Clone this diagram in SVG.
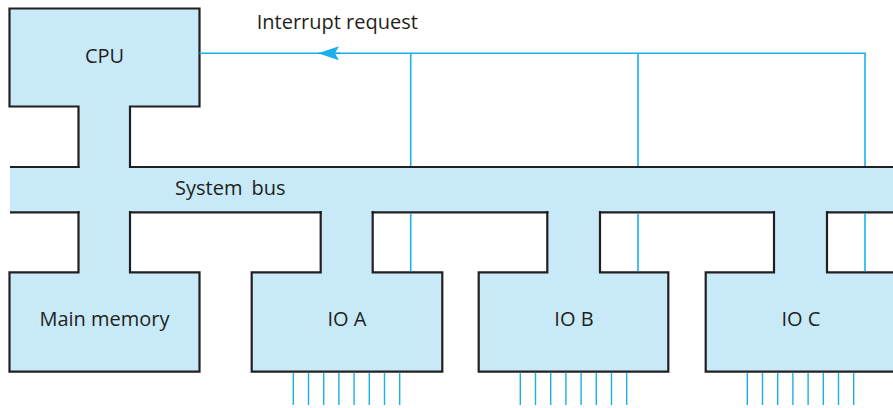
<svg xmlns="http://www.w3.org/2000/svg" width="893" height="408" viewBox="0 0 893 408">
<style>
.box{fill:#c7e9f8;stroke:#231f20;stroke-width:2.2;stroke-linejoin:miter}
.edge{fill:none;stroke:#231f20;stroke-width:2.2}
.wire{fill:none;stroke:#1ab1ea;stroke-width:1.6}
.pin{fill:none;stroke:#1ab1ea;stroke-width:1.4}
text{font-family:"Open Sans","Liberation Sans",sans-serif;font-size:20px;fill:#231f20}
</style>
<defs>
<marker id="arr" markerUnits="userSpaceOnUse" viewBox="0 0 21 14" refX="21" refY="7" markerWidth="21" markerHeight="14" orient="auto">
<path d="M0,0 L21,7 L0,14 L4,7 Z" fill="#1ab1ea"/>
</marker>
</defs>
<rect x="0" y="0" width="893" height="408" fill="#ffffff"/>
<g id="system-bus">
<rect x="10" y="167" width="885" height="45.3" fill="#c7e9f8"/>
</g>
<g id="cpu">
<path class="box" d="M78.5,168 V106.5 H9.5 V8.5 H199.5 V106.5 H130 V168"/>
<text x="104.5" y="63" text-anchor="middle">CPU</text>
</g>
<g id="main-memory">
<path class="box" d="M78.5,211 V272.3 H9.5 V371.7 H199.5 V272.3 H130 V211"/>
<text x="104.5" y="326" text-anchor="middle">Main memory</text>
</g>
<g id="io-a">
<path class="box" d="M320.7,211 V272.3 H251.7 V371.7 H442.3 V272.3 H372.7 V211"/>
<text x="347" y="326" text-anchor="middle">IO A</text>
</g>
<g id="io-b">
<path class="box" d="M547.3,211 V272.3 H478.7 V371.7 H668.3 V272.3 H600 V211"/>
<text x="574" y="326" text-anchor="middle">IO B</text>
</g>
<g id="io-c">
<path class="box" d="M774,211 V272.3 H705.7 V371.7 H896 V272.3 H827 V211"/>
<text x="801" y="326" text-anchor="middle">IO C</text>
</g>
<g id="system-bus-edges">
<path class="edge" d="M10,167 H79.5 M129,167 H895 M10,212.3 H79.5 M129,212.3 H321.7 M371.7,212.3 H548.3 M599,212.3 H775 M826,212.3 H895"/>
<text x="175" y="195" word-spacing="4">System bus</text>
</g>
<g id="connectors">
<path class="wire" d="M199.5,53.3 H865 V166"/>
<path class="wire" d="M410.7,53.3 V166 M638,53.3 V166"/>
<path class="wire" d="M410.7,213.3 V271.3 M638,213.3 V271.3 M865,213.3 V271.3"/>
<path class="wire" d="M340,53.3 H318" marker-end="url(#arr)"/>
<path class="pin" d="M293.3,372.7 V405 M308.5,372.7 V405 M323.7,372.7 V405 M338.9,372.7 V405 M354.1,372.7 V405 M369.3,372.7 V405 M384.5,372.7 V405 M399.7,372.7 V405"/>
<path class="pin" d="M520.3,372.7 V405 M535.5,372.7 V405 M550.7,372.7 V405 M565.9,372.7 V405 M581.1,372.7 V405 M596.3,372.7 V405 M611.5,372.7 V405 M626.7,372.7 V405"/>
<path class="pin" d="M747.3,372.7 V405 M762.5,372.7 V405 M777.7,372.7 V405 M792.9,372.7 V405 M808.1,372.7 V405 M823.3,372.7 V405 M838.5,372.7 V405 M853.7,372.7 V405"/>
<text x="256.7" y="29.3">Interrupt request</text>
</g>
</svg>
